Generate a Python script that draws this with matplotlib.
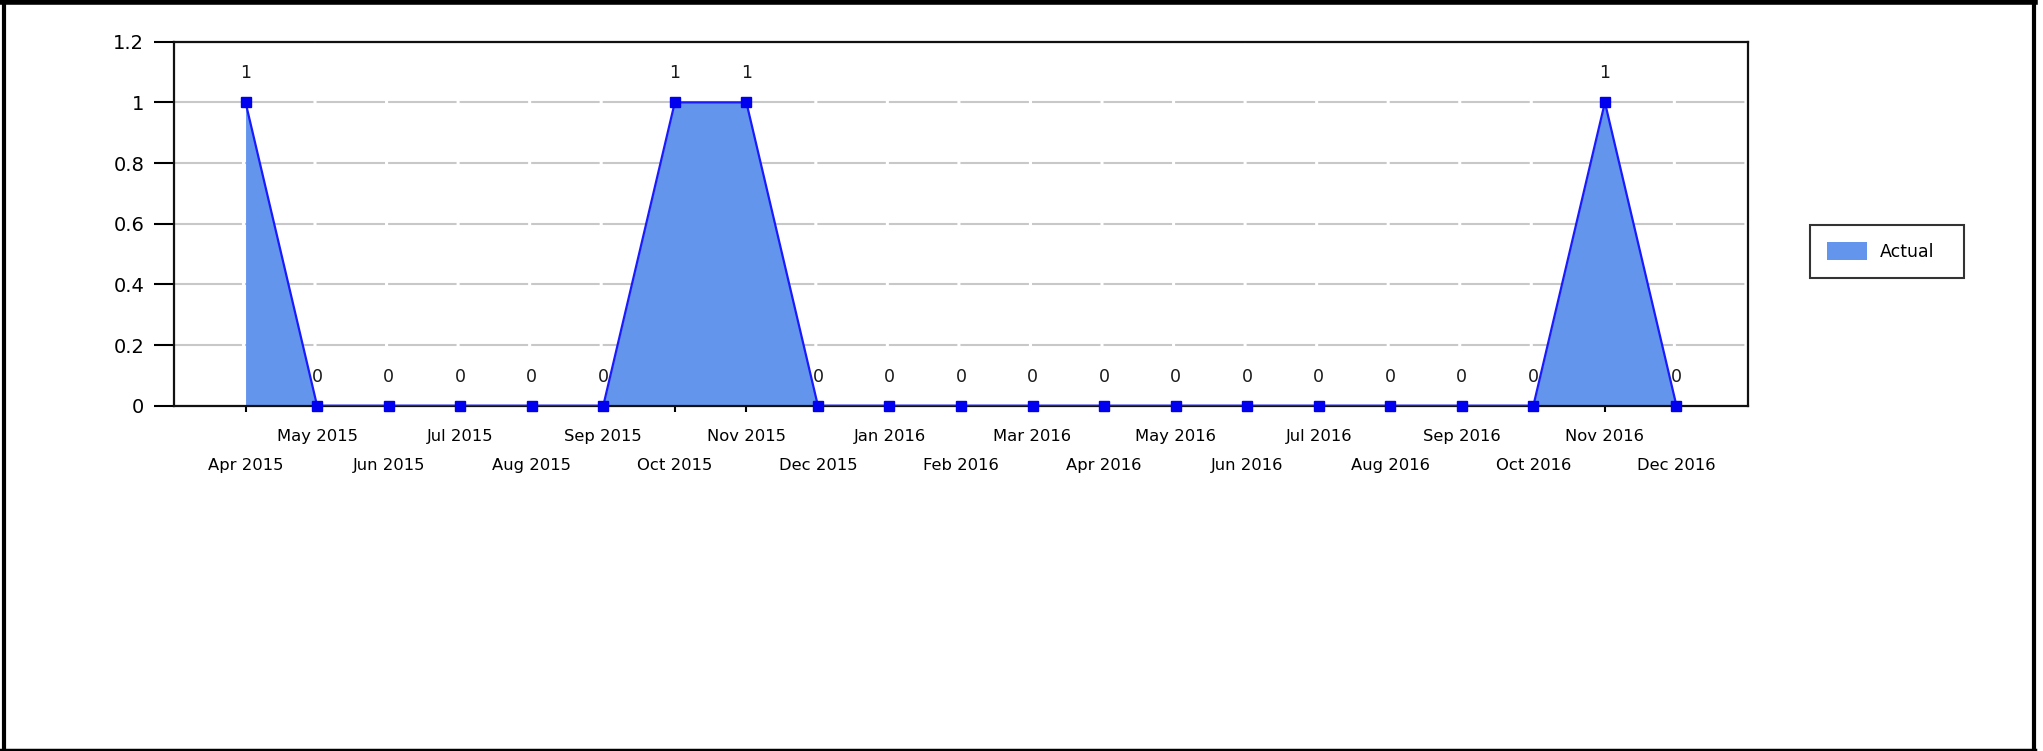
import matplotlib
matplotlib.use('Agg')
import matplotlib.pyplot as plt
from matplotlib.lines import Line2D

plt.rcParams['font.family'] = ['DejaVu Sans']
plt.rcParams['lines.scale_dashes'] = False

months = ['Apr 2015', 'May 2015', 'Jun 2015', 'Jul 2015', 'Aug 2015', 'Sep 2015',
          'Oct 2015', 'Nov 2015', 'Dec 2015', 'Jan 2016', 'Feb 2016', 'Mar 2016',
          'Apr 2016', 'May 2016', 'Jun 2016', 'Jul 2016', 'Aug 2016', 'Sep 2016',
          'Oct 2016', 'Nov 2016', 'Dec 2016']
actual = [1, 0, 0, 0, 0, 0, 1, 1, 0, 0, 0, 0, 0, 0, 0, 0, 0, 0, 0, 1, 0]

W, H = 2043, 751
fig = plt.figure(figsize=(W / 100, H / 100), dpi=100)
ax = fig.add_axes([174 / W, 1 - 405.7 / H, (1748 - 174) / W, (405.7 - 41.7) / H])

x = list(range(len(months)))
ax.fill_between(x, actual, 0, color='#6495ED', lw=0, zorder=2, label='Actual')
ax.plot(x, actual, color='#1a1aff', lw=1.6, zorder=3)
ax.plot(x, actual, 's', color='#0000ee', ms=6.5, zorder=4, clip_on=False)

for xi, v in zip(x, actual):
  ax.annotate(f'{v}', (xi, v), xytext=(0, 21), textcoords='offset points',
              ha='center', va='center', fontsize=12.5, color='#1a1a1a')

ax.set_xlim(-1, len(months))
ax.set_ylim(0, 1.2)
ax.set_yticks([0, 0.2, 0.4, 0.6, 0.8, 1, 1.2])
ax.set_yticklabels(['0', '0.2', '0.4', '0.6', '0.8', '1', '1.2'], fontsize=14)
ax.tick_params(axis='y', length=14.5, width=1.5, pad=7)
ax.set_xticks(x)
ax.set_xticklabels(months, fontsize=11.8)
ax.tick_params(axis='x', length=4, width=1.5)
for i, t in enumerate(ax.xaxis.get_major_ticks()):
  t.set_pad(12.5 if i % 2 else 33.5)

# gridlines broken at each category position
period = ax.get_position().width * W / 100 * 72 / (len(months) + 1)
ax.grid(axis='y', color='#c8c8c8', lw=1.5, linestyle=(0.4, (period - 2.2, 2.2)), zorder=0.5)
ax.set_axisbelow(True)
for s in ax.spines.values():
  s.set_linewidth(1.6)
  s.set_color('#111111')

leg = ax.legend(loc='upper left', bbox_to_anchor=(1810 / W, 1 - 282 / H, 154 / W, 57 / H),
                bbox_transform=fig.transFigure, mode='expand', fontsize=12.5, frameon=True,
                fancybox=False, edgecolor='black', handlelength=2.3, handleheight=1.15,
                borderpad=1.0, handletextpad=0.7, borderaxespad=0)
leg.get_frame().set_linewidth(1.5)

# outer border
fig.add_artist(Line2D([4 / W, 4 / W], [0, 1], color='black', lw=3, transform=fig.transFigure))
fig.add_artist(Line2D([2034 / W, 2034 / W], [0, 1], color='black', lw=3, transform=fig.transFigure))
fig.add_artist(Line2D([0, 2035 / W], [1 - 2 / H, 1 - 2 / H], color='black', lw=4, transform=fig.transFigure))
fig.add_artist(Line2D([0, 2035 / W], [1.5 / H, 1.5 / H], color='black', lw=2.5, transform=fig.transFigure))

fig.savefig('out.png', dpi=100)
